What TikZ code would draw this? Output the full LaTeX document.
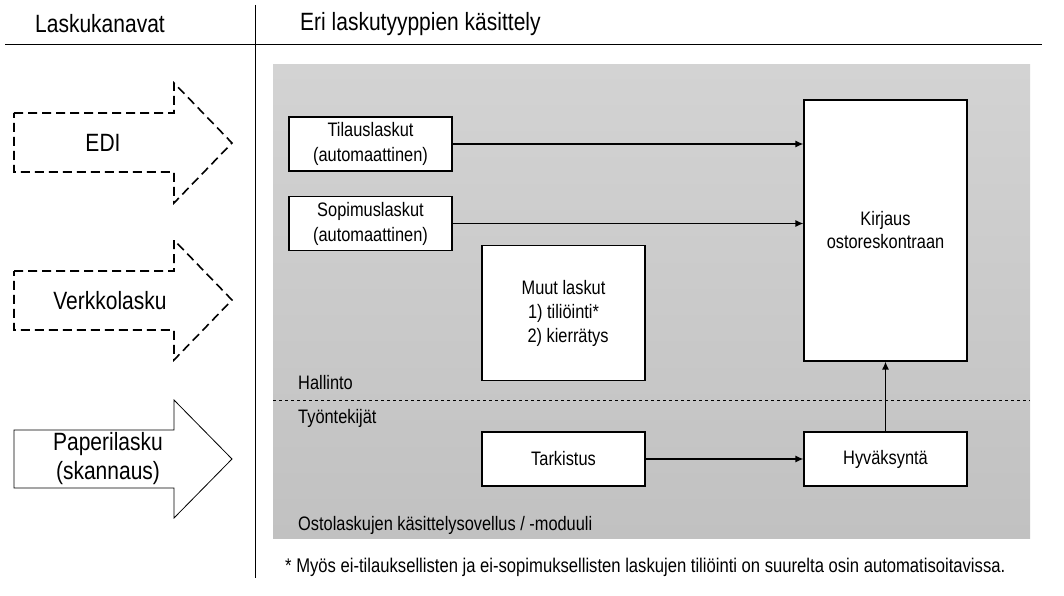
\documentclass[tikz,border=0pt]{standalone}
\usepackage{fontspec}
\setmainfont{Liberation Sans}[FakeStretch=0.84]
\usetikzlibrary{arrows.meta}
\definecolor{paneeliylä}{HTML}{D3D3D3}
\definecolor{paneeliala}{HTML}{C1C1C1}
\tikzset{
	laatikko/.style={draw, fill=white, line width=1.1pt, inner sep=0pt, minimum width=163pt, minimum height=54pt, align=center, font=\fontsize{19.5}{25}\selectfont},
	teksti/.style={inner sep=0pt, font=\fontsize{19.5}{23}\selectfont},
	otsikko/.style={inner sep=0pt, font=\fontsize{25}{28}\selectfont},
	kanava/.style={line width=1.6pt},
	nuoli/.style={line width=1.4pt, -{Latex[length=8pt,width=7pt]}}
}
\begin{document}
\begin{tikzpicture}[x=1pt,y=-1pt]
	\useasboundingbox (0,0) rectangle (1064,596);
	% otsikot
	\draw[line width=0.9pt] (5,44) -- (1042,44);
	\draw[line width=0.9pt] (255,5) -- (255,578);
	\node (kanavat) at (100,24) [otsikko] {Laskukanavat};
	\node (kasittely) at (300,24) [otsikko, anchor=west] {Eri laskutyyppien käsittely};
	% paneeli
	\shade[top color=paneeliylä, bottom color=paneeliala] (273,65) rectangle (1030,538);
	\draw[dashed, line width=0.8pt] (273,400) -- (1030,400);
	\node (hallinto) at (298,383) [teksti, anchor=west] {Hallinto};
	\node (tyontekijat) at (298,418) [teksti, anchor=west] {Työntekijät};
	\node (sovellus) at (298,525) [teksti, anchor=west] {Ostolaskujen käsittelysovellus / -moduuli};
	% laskukanavat
	\draw[kanava, dashed, dash pattern=on 9pt off 5pt] (14,113) -- (174,113) -- (174,83) -- (232,143) -- (174,203) -- (174,172) -- (14,172) -- cycle;
	\draw[kanava, dashed, dash pattern=on 9pt off 5pt] (14,271) -- (174,271) -- (174,240) -- (232,300) -- (174,360) -- (174,330) -- (14,330) -- cycle;
	\draw[line width=0.8pt, fill=white] (14,430) -- (174,430) -- (174,400) -- (232,459) -- (174,518) -- (174,488) -- (14,488) -- cycle;
	\node (edi) at (103,143) [inner sep=0pt, font=\fontsize{25}{28}\selectfont] {EDI};
	\node (verkko) at (110,301) [inner sep=0pt, font=\fontsize{25}{28}\selectfont] {Verkkolasku};
	\node (paperi) at (108,459) [inner sep=0pt, align=center, font=\fontsize{25}{29}\selectfont] {Paperilasku\\(skannaus)};
	% laatikot
	\node (tilaus) at (370.5,144) [laatikko] {Tilauslaskut\\(automaattinen)};
	\node (sopimus) at (370.5,223.5) [laatikko] {Sopimuslaskut\\(automaattinen)};
	\node (muut) at (563.5,313) [laatikko, minimum height=135pt, font=\fontsize{19.5}{24}\selectfont] {Muut laskut\\1) tiliöinti*\\\ \ 2) kierrätys};
	\node (kirjaus) at (885.5,230.5) [laatikko, minimum height=261pt, font=\fontsize{19.5}{23}\selectfont] {Kirjaus\\ostoreskontraan};
	\node (tarkistus) at (563.5,459) [laatikko] {Tarkistus};
	\node (hyvaksynta) at (885.5,459) [laatikko] {Hyväksyntä};
	\draw[nuoli] (tilaus.east) -- (tilaus.east -| kirjaus.west);
	\draw[nuoli] (sopimus.east) -- (sopimus.east -| kirjaus.west);
	\draw[nuoli] (tarkistus) -- (hyvaksynta);
	\draw[nuoli] (hyvaksynta) -- (kirjaus);
	% alaviite
	\node (alaviite) at (285,567) [inner sep=0pt, anchor=west, font=\fontsize{19.8}{23}\selectfont] {* Myös ei-tilauksellisten ja ei-sopimuksellisten laskujen tiliöinti on suurelta osin automatisoitavissa.};
\end{tikzpicture}
\end{document}
